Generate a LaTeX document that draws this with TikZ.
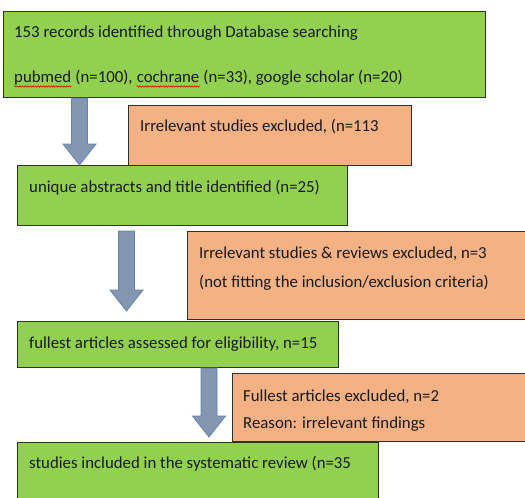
\documentclass[tikz,border=0pt]{standalone}
\usepackage{fontspec}
\setmainfont{Carlito}
\usetikzlibrary{calc,decorations.pathmorphing}
\definecolor{boxgreen}{HTML}{92D050}
\definecolor{boxorange}{HTML}{F4B183}
\definecolor{arrowfill}{HTML}{8497B0}
\definecolor{arrowedge}{HTML}{6283B4}
\definecolor{edgegray}{HTML}{303030}
\definecolor{inktext}{HTML}{1A1A1A}
\tikzset{
  stage/.style={draw=edgegray, line width=1.1pt, fill=boxgreen, inner sep=0pt, anchor=north west},
  dropped/.style={stage, fill=boxorange},
  txtline/.style={font=\fontsize{16.8}{18}\selectfont, text=inktext, inner sep=0pt, anchor=base west},
  blockarrow/.style={fill=arrowfill, draw=arrowedge, line width=0.8pt, line join=miter},
  spell/.style={draw=red!90!black, line width=0.6pt, decorate,
    decoration={snake, amplitude=0.7pt, segment length=2.6pt}}
}
% thick down arrow: #1 = top of the shaft, #2 = tip
\newcommand{\stagearrow}[2]{%
  \draw[blockarrow] let \p1=(#1), \p2=(#2) in
    (\x1-8pt,\y1) -- (\x1+8pt,\y1) -- (\x1+8pt,\y2+21pt) -- (\x1+16.5pt,\y2+21pt)
    -- (\x1,\y2) -- (\x1-16.5pt,\y2+21pt) -- (\x1-8pt,\y2+21pt) -- cycle;}
\begin{document}
\begin{tikzpicture}[x=1pt, y=-1pt]
\useasboundingbox (0,0) rectangle (525,498);
\fill[white] (0,0) rectangle (525,498);

% search results
\node[stage, minimum width=482, minimum height=86] (b1) at (3,11) {};
\node[txtline] (t1a) at ($(b1.north west)+(11,26.5)$) {153 records identified through Database searching};
% second line is set in pieces so the flagged words can be underlined
\node[txtline] (w1) at ($(b1.north west)+(11,71.5)$) {pubmed};
\node[txtline] (w2) at (w1.base east) {~(n=100),~\null};
\node[txtline] (w3) at (w2.base east) {cochrane};
\node[txtline] (w4) at (w3.base east) {~(n=33), google scholar (n=20)};
\draw[spell] ($(w1.base west)+(0,4)$) -- ($(w1.base east)+(0,4)$);
\draw[spell] ($(w3.base west)+(0,4)$) -- ($(w3.base east)+(0,4)$);

% first exclusion
\node[dropped, minimum width=283, minimum height=60] (o1) at (128,105) {};
\node[txtline] (to1) at ($(o1.north west)+(12,26.5)$) {Irrelevant studies excluded, (n=113};

% screened records
\node[stage, minimum width=330, minimum height=60] (b2) at (17,165) {};
\node[txtline] (t2) at ($(b2.north west)+(12,27.5)$) {unique abstracts and title identified (n=25)};

% second exclusion
\node[dropped, minimum width=343, minimum height=88] (o2) at (187,231) {};
\node[txtline] (to2a) at ($(o2.north west)+(12,27.5)$) {Irrelevant studies \& reviews excluded, n=3};
\node[txtline] (to2b) at ($(o2.north west)+(12,56.5)$) {(not fitting the inclusion/exclusion criteria)};

% full texts
\node[stage, minimum width=321, minimum height=46] (b3) at (17,321) {};
\node[txtline] (t3) at ($(b3.north west)+(12,27.5)$) {fullest articles assessed for eligibility, n=15};

% third exclusion
\node[dropped, minimum width=298, minimum height=68] (o3) at (232,373) {};
\node[txtline] (to3a) at ($(o3.north west)+(11,28.5)$) {Fullest articles excluded, n=2};
\node[txtline] (to3b) at ($(o3.north west)+(11,55.5)$) {Reason: irrelevant findings};

% included studies
\node[stage, minimum width=361, minimum height=63] (b4) at (17,442) {};
\node[txtline] (t4) at ($(b4.north west)+(12,26.5)$) {studies included in the systematic review (n=35};

% arrow columns
\coordinate (c1) at (79.5,0);
\coordinate (c2) at (126.5,0);
\coordinate (c3) at (209,0);
\coordinate (a1s) at (c1 |- b1.south);
\coordinate (a1e) at (c1 |- b2.north);
\coordinate (a2s) at ($(c2 |- b2.south)+(0,5)$);
\coordinate (a2e) at ($(c2 |- b3.north)+(0,-10)$);
\coordinate (a3s) at (c3 |- b3.south);
\coordinate (a3e) at ($(c3 |- b4.north)+(0,-5)$);
\stagearrow{a1s}{a1e}
\stagearrow{a2s}{a2e}
\stagearrow{a3s}{a3e}
\end{tikzpicture}
\end{document}
